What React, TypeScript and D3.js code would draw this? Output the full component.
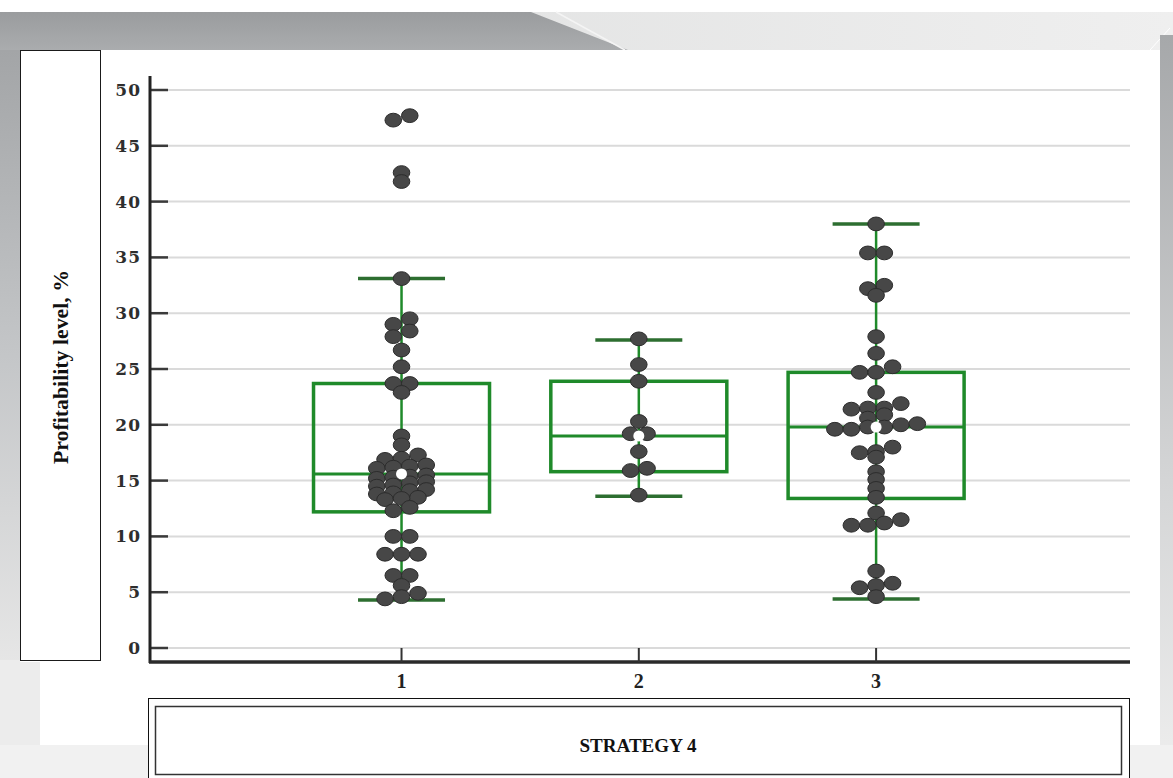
import React from "react";
import * as d3 from "d3";

// ---------- data ----------
const categories = [1, 2, 3];
const yTicks = [0, 5, 10, 15, 20, 25, 30, 35, 40, 45, 50];

// box statistics (per category)
const q1 = [12.2, 15.8, 13.4];
const medians = [15.6, 19.0, 19.8];
const q3 = [23.7, 23.9, 24.7];
const whiskerLow = [4.3, 13.6, 4.4];
const whiskerHigh = [33.1, 27.6, 38.0];

// observed values (per category)
const group1 = [
  47.7, 47.3, 42.6, 41.8, 33.1, 29.5, 29.0, 28.4, 27.9, 26.7, 25.2, 23.7, 23.7,
  22.9, 19.0, 18.2, 17.3, 17.0, 16.9, 16.4, 16.3, 16.2, 16.1, 15.5, 15.4, 15.3,
  15.2, 14.9, 14.8, 14.6, 14.5, 14.2, 14.1, 13.9, 13.8, 13.5, 13.4, 13.3, 12.6,
  12.3, 10.0, 10.0, 8.4, 8.4, 8.4, 6.5, 6.5, 5.6, 4.9, 4.6, 4.4,
];
const group2 = [27.7, 25.4, 23.9, 20.3, 19.2, 19.2, 17.6, 16.1, 15.9, 13.7];
const group3 = [
  38.0, 35.4, 35.4, 32.5, 32.2, 31.6, 27.9, 26.4, 25.2, 24.7, 24.7, 22.9, 21.9,
  21.5, 21.5, 21.4, 20.9, 20.6, 20.1, 20.0, 19.8, 19.8, 19.6, 19.6, 18.0, 17.6,
  17.5, 17.1, 15.8, 15.1, 14.3, 13.5, 12.1, 11.5, 11.2, 11.0, 11.0, 6.9, 5.8,
  5.6, 5.4, 4.6,
];
const groups = [group1, group2, group3];

const xTitle = "STRATEGY 4";
const yTitle = "Profitability level, %";

// ---------- layout helpers ----------
const W = 1173;
const H = 778;

const x = d3.scaleLinear().domain([-0.06, 4.07]).range([150, 1130]);
const y = d3.scaleLinear().domain([0, 50]).range([648, 90]);

// centred dot-row layout: values close together share a row, centred on the category
function swarm(values: number[], rowTol: number, step: number) {
  const sorted = [...values].sort((a, b) => b - a);
  const rows: number[][] = [];
  sorted.forEach((v) => {
    const last = rows[rows.length - 1];
    if (last && last[0] - v <= rowTol) last.push(v);
    else rows.push([v]);
  });
  const out: { v: number; dx: number }[] = [];
  rows.forEach((r) => {
    const asc = [...r].sort((a, b) => a - b);
    asc.forEach((v, i) => out.push({ v, dx: (i - (asc.length - 1) / 2) * step }));
  });
  return out;
}

const GREEN = "#1f8a2a";
const CAP = "#2d6e30";

export default function App() {
  const boxW = 176;
  const capW = 87;
  return (
    <svg
      width={W}
      height={H}
      style={{ position: "absolute", left: 0, top: 0, display: "block" }}
    >
      <defs>
        <linearGradient id="topDark" x1="0" y1="0" x2="0" y2="1">
          <stop offset="0" stopColor="#9a9c9e" />
          <stop offset="1" stopColor="#aaacae" />
        </linearGradient>
        <linearGradient id="topLight" x1="0" y1="0" x2="1" y2="0">
          <stop offset="0" stopColor="#dcdddd" />
          <stop offset="1" stopColor="#efefef" />
        </linearGradient>
        <linearGradient id="leftStrip" x1="0" y1="0" x2="0" y2="1">
          <stop offset="0" stopColor="#a3a5a7" />
          <stop offset="0.5" stopColor="#c4c6c8" />
          <stop offset="1" stopColor="#e6e6e6" />
        </linearGradient>
        <linearGradient id="rightStrip" x1="0" y1="0" x2="0" y2="1">
          <stop offset="0" stopColor="#a6a8aa" />
          <stop offset="0.6" stopColor="#d4d5d6" />
          <stop offset="1" stopColor="#eeeeee" />
        </linearGradient>
      </defs>

      {/* background decoration */}
      <rect x={0} y={0} width={W} height={H} fill="#ffffff" />
      <rect x={0} y={12} width={W} height={38} fill="url(#topLight)" />
      <polygon points="0,12 531,12 628,50 0,50" fill="url(#topDark)" />
      <line x1={556} y1={12} x2={625} y2={50} stroke="#f4f4f4" strokeWidth={1.5} />
      <line x1={1150} y1={50} x2={1170} y2={28} stroke="#ffffff" strokeWidth={1} />
      <rect x={0} y={50} width={20} height={612} fill="url(#leftStrip)" />
      <rect x={0} y={660} width={40} height={H - 660} fill="#ececec" />
      <rect x={1160} y={35} width={13} height={H - 35} fill="url(#rightStrip)" />
      <rect x={0} y={745} width={W} height={H - 745} fill="#f1f1f1" />
      <rect x={40} y={50} width={1120} height={695} fill="#ffffff" />
      <rect x={20} y={50} width={30} height={612} fill="#ffffff" />

      {/* y title box */}
      <rect x={20.5} y={50.5} width={80} height={610} fill="#ffffff" stroke="#1a1a1a" strokeWidth={1} />
      <text
        transform={`translate(${68},${367}) rotate(-90)`}
        textAnchor="middle"
        fontFamily="'Liberation Serif', 'Times New Roman', serif"
        fontWeight="bold"
        fontSize={20}
        textLength={194}
        lengthAdjust="spacingAndGlyphs"
        fill="#111"
      >
        {yTitle}
      </text>

      {/* grid lines */}
      {yTicks.map((t) => (
        <line key={"g" + t} x1={150} x2={1130} y1={y(t)} y2={y(t)} stroke="#dadada" strokeWidth={2} />
      ))}
      {/* y ticks and labels */}
      {yTicks.map((t) => (
        <g key={"t" + t}>
          <line x1={150} x2={168} y1={y(t)} y2={y(t)} stroke="#3a3a3a" strokeWidth={2.5} />
          <text
            x={141}
            y={y(t) + 6}
            textAnchor="end"
            fontFamily="'DejaVu Serif', serif"
            fontWeight="bold"
            fontSize={17}
            letterSpacing={1}
            fill="#2e2e2e"
          >
            {t}
          </text>
        </g>
      ))}
      {/* axes */}
      <line x1={150} x2={150} y1={76} y2={663} stroke="#222" strokeWidth={3} />
      <line x1={149} x2={1130} y1={662} y2={662} stroke="#2a2a2a" strokeWidth={3.5} />
      {categories.map((c) => (
        <g key={"x" + c}>
          <line x1={x(c)} x2={x(c)} y1={648} y2={662} stroke="#333" strokeWidth={2} />
          <text
            x={x(c)}
            y={688}
            textAnchor="middle"
            fontFamily="'Liberation Serif', serif"
            fontWeight="bold"
            fontSize={20}
            fill="#222"
          >
            {c}
          </text>
        </g>
      ))}

      {/* boxes */}
      {categories.map((c, i) => {
        const cx = x(c);
        return (
          <g key={"b" + c}>
            <line x1={cx} x2={cx} y1={y(whiskerHigh[i])} y2={y(whiskerLow[i])} stroke={GREEN} strokeWidth={2.5} />
            <rect
              x={cx - boxW / 2}
              y={y(q3[i])}
              width={boxW}
              height={y(q1[i]) - y(q3[i])}
              fill="none"
              stroke={GREEN}
              strokeWidth={3.5}
            />
            <line x1={cx - boxW / 2} x2={cx + boxW / 2} y1={y(medians[i])} y2={y(medians[i])} stroke={GREEN} strokeWidth={3} />
            <line x1={cx - capW / 2} x2={cx + capW / 2} y1={y(whiskerHigh[i])} y2={y(whiskerHigh[i])} stroke={CAP} strokeWidth={3.5} />
            <line x1={cx - capW / 2} x2={cx + capW / 2} y1={y(whiskerLow[i])} y2={y(whiskerLow[i])} stroke={CAP} strokeWidth={3.5} />
          </g>
        );
      })}

      {/* points */}
      {categories.map((c, i) => {
        const cx = x(c);
        const pts = swarm(groups[i], 0.55, 16.5);
        return (
          <g key={"p" + c}>
            {pts.map((p, j) => (
              <ellipse
                key={j}
                cx={cx + p.dx}
                cy={y(p.v)}
                rx={8.3}
                ry={6.9}
                fill="#474747"
                stroke="#2c2c2c"
                strokeWidth={1}
              />
            ))}
            <circle cx={cx} cy={y(medians[i])} r={5.5} fill="#ffffff" />
          </g>
        );
      })}

      {/* x title box */}
      <rect x={148.5} y={698.5} width={981} height={90} fill="#ffffff" stroke="#111" strokeWidth={1} />
      <rect x={155.5} y={706.5} width={966} height={68} fill="none" stroke="#333" strokeWidth={1.5} />
      <text
        x={638}
        y={752}
        textAnchor="middle"
        fontFamily="'Liberation Serif', 'Times New Roman', serif"
        fontWeight="bold"
        fontSize={19}
        textLength={117}
        lengthAdjust="spacingAndGlyphs"
        fill="#111"
      >
        {xTitle}
      </text>
    </svg>
  );
}
